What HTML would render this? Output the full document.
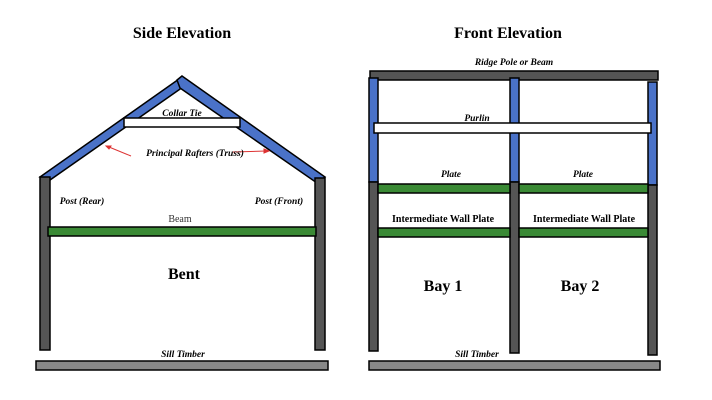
<!DOCTYPE html>
<html><head><meta charset="utf-8"><style>
html,body{margin:0;padding:0;background:#fff;}
svg{display:block;}
text{font-family:"Liberation Serif",serif;}
</style></head><body>
<svg width="712" height="400" viewBox="0 0 712 400" xmlns="http://www.w3.org/2000/svg">
<rect width="712" height="400" fill="#fff"/>
<g font-weight="bold" font-size="16" text-anchor="middle">
<text x="182" y="38">Side Elevation</text>
<text x="508" y="38">Front Elevation</text>
</g>
<g stroke="#000" stroke-width="1.5">
<!-- Side elevation -->
<polygon points="40,177 179,79 183,87 50,180" fill="#4a72c8"/>
<polygon points="182,76 325,177 317,183 180,88 177,80" fill="#4a72c8"/>
<rect x="124" y="118" width="116" height="9" fill="#fff"/>
<rect x="40" y="177" width="10" height="173" fill="#555"/>
<rect x="315" y="178" width="10" height="172" fill="#555"/>
<rect x="48" y="227" width="268" height="9" fill="#3a8a35"/>
<rect x="36" y="361" width="292" height="9" fill="#888"/>
<!-- Front elevation -->
<rect x="370" y="71" width="288" height="9" fill="#555"/>
<rect x="369" y="78" width="9" height="104" fill="#4a72c8"/>
<rect x="369" y="182" width="9" height="169" fill="#555"/>
<rect x="510" y="78" width="9" height="104" fill="#4a72c8"/>
<rect x="510" y="182" width="9" height="171" fill="#555"/>
<rect x="648" y="82" width="9" height="103" fill="#4a72c8"/>
<rect x="648" y="185" width="9" height="170" fill="#555"/>
<rect x="374" y="123" width="277" height="10" fill="#fff"/>
<rect x="378" y="184" width="132" height="9" fill="#3a8a35"/>
<rect x="519" y="184" width="129" height="9" fill="#3a8a35"/>
<rect x="378" y="228" width="132" height="9" fill="#3a8a35"/>
<rect x="519" y="228" width="129" height="9" fill="#3a8a35"/>
<rect x="369" y="361" width="291" height="9" fill="#888"/>
</g>
<!-- arrows -->
<g stroke="#d33" stroke-width="1" fill="#d33">
<line x1="131" y1="156" x2="109" y2="147"/>
<polygon points="106,146 111,146 109,149" />
<line x1="232" y1="152" x2="266" y2="151"/>
<polygon points="269,151 264,149 264,153"/>
</g>
<g font-style="italic" font-weight="bold" font-size="9.5" text-anchor="middle">
<text x="182" y="116">Collar Tie</text>
<text x="195" y="156">Principal Rafters (Truss)</text>
<text x="82" y="204">Post (Rear)</text>
<text x="279" y="204">Post (Front)</text>
<text x="183" y="357">Sill Timber</text>
<text x="477" y="357">Sill Timber</text>
<text x="514" y="65">Ridge Pole or Beam</text>
<text x="477" y="121">Purlin</text>
<text x="451" y="177">Plate</text>
<text x="583" y="177">Plate</text>
</g>
<text x="180" y="222" font-size="10" text-anchor="middle" font-family="Liberation Sans, sans-serif" fill="#333">Beam</text>
<g font-weight="bold" font-size="10" text-anchor="middle">
<text x="443" y="222">Intermediate Wall Plate</text>
<text x="584" y="222">Intermediate Wall Plate</text>
</g>
<g font-weight="bold" font-size="16" text-anchor="middle">
<text x="184" y="279">Bent</text>
<text x="443" y="291">Bay 1</text>
<text x="580" y="291">Bay 2</text>
</g>
</svg>
</body></html>
